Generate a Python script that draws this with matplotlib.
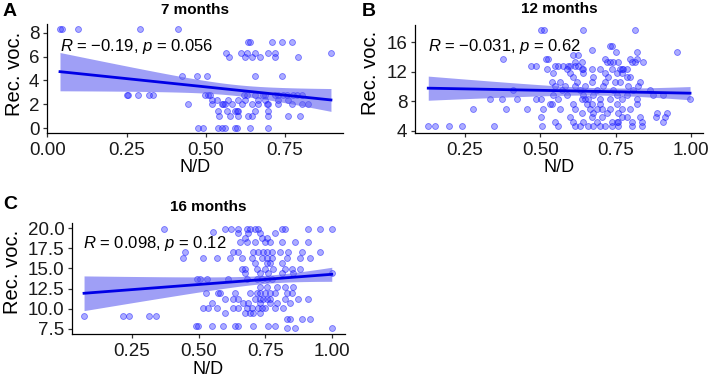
import numpy as np
import matplotlib
matplotlib.use("Agg")
import matplotlib.pyplot as plt

plt.rcParams['font.family'] = ['Liberation Sans', 'DejaVu Sans']
plt.rcParams['mathtext.fontset'] = 'custom'
plt.rcParams['mathtext.rm'] = 'Liberation Sans'
plt.rcParams['mathtext.it'] = 'Liberation Sans:italic'

# ---------------- data ----------------
# Panel A: 7 months  -> rows of equal Rec. voc. value : N/D values
a_rows = {
    8.3: [0.040, 0.047, 0.098, 0.292, 0.413],
    7.25: [0.634, 0.639, 0.710, 0.741, 0.773],
    6.33: [0.564, 0.611, 0.629, 0.655, 0.695, 0.718, 0.895],
    6.0: [0.574, 0.624, 0.645, 0.671, 0.720, 0.792],
    4.38: [0.424, 0.471, 0.503, 0.655, 0.739],
    2.75: [0.250, 0.256, 0.285, 0.321, 0.334, 0.497, 0.508, 0.513, 0.621, 0.629,
           0.655, 0.681, 0.687, 0.718, 0.729, 0.745, 0.755, 0.776, 0.787, 0.803],
    2.36: [0.519, 0.534, 0.571, 0.603, 0.624, 0.666, 0.687, 0.729, 0.760],
    2.0: [0.445, 0.519, 0.550, 0.555, 0.561, 0.582, 0.613, 0.645, 0.666, 0.692,
          0.697, 0.729, 0.771, 0.803, 0.823],
    1.4: [0.539, 0.566, 0.592, 0.597, 0.603, 0.655, 0.697],
    1.0: [0.543, 0.576, 0.603, 0.634, 0.645, 0.697, 0.760, 0.797],
    0.0: [0.476, 0.492, 0.539, 0.550, 0.561, 0.592, 0.597, 0.639, 0.697],
}
# Panel B: 12 months
b_rows = {
    17.74: [0.502, 0.513, 0.643, 0.814],
    15.56: [0.731, 0.737],
    15.0: [0.670],
    14.7: [0.750, 0.820, 0.955],
    14.33: [0.609, 0.626],
    13.78: [0.377, 0.518, 0.526, 0.715, 0.798, 0.822],
    13.33: [0.615, 0.637, 0.720, 0.731, 0.742, 0.759, 0.803, 0.814, 0.840],
    12.85: [0.469, 0.484, 0.549, 0.560, 0.576, 0.593, 0.598, 0.615, 0.626],
    12.33: [0.521, 0.587, 0.637, 0.643, 0.670, 0.698, 0.737, 0.764, 0.770, 0.775, 0.787],
    11.83: [0.543, 0.598, 0.643, 0.715, 0.753, 0.770],
    11.28: [0.609, 0.676, 0.726, 0.787, 0.798],
    10.6: [0.538, 0.565, 0.621, 0.670, 0.715, 0.748, 0.764, 0.831],
    10.1: [0.549, 0.582, 0.615, 0.648, 0.709, 0.792, 0.825],
    9.5: [0.408, 0.571, 0.632, 0.687, 0.742, 0.809, 0.864],
    8.87: [0.543, 0.587, 0.643, 0.676, 0.753, 0.787, 0.875, 0.908],
    8.28: [0.333, 0.374, 0.421, 0.484, 0.502, 0.560, 0.637, 0.648, 0.659, 0.698,
           0.731, 0.770, 0.820, 0.997],
    7.6: [0.532, 0.538, 0.609, 0.654, 0.670, 0.698, 0.753, 0.820],
    6.92: [0.278, 0.385, 0.455, 0.510, 0.565, 0.615, 0.665, 0.687, 0.704, 0.731, 0.770, 0.798],
    6.37: [0.637, 0.676, 0.720, 0.759, 0.886, 0.919],
    5.9: [0.502, 0.598, 0.670, 0.704, 0.770, 0.787, 0.831, 0.884, 0.914],
    5.23: [0.549, 0.609, 0.643, 0.687, 0.737, 0.753, 0.759, 0.803, 0.836, 0.908],
    4.6: [0.128, 0.150, 0.198, 0.239, 0.346, 0.504, 0.560, 0.615, 0.632, 0.659, 0.676,
          0.698, 0.715, 0.737, 0.759, 0.803, 0.836],
}
# Panel C: 16 months
c_rows = {
    19.84: [0.372, 0.599, 0.621, 0.649, 0.680, 0.692, 0.711, 0.724, 0.811, 0.823,
            0.910, 0.954, 0.998],
    19.55: [0.555],
    19.34: [0.649, 0.686, 0.730, 0.786],
    18.72: [0.674, 0.736, 0.755],
    18.23: [0.655, 0.680, 0.711, 0.748, 0.767, 0.811, 0.861, 0.910],
    17.0: [0.449, 0.630, 0.649, 0.705, 0.724, 0.742, 0.755, 0.773, 0.804, 0.836, 0.886, 0.954],
    16.33: [0.443, 0.515, 0.568, 0.618, 0.661, 0.699, 0.736, 0.755, 0.773, 0.830, 0.879, 0.917],
    15.63: [0.711, 0.755, 0.767, 0.811],
    14.89: [0.661, 0.674, 0.717, 0.748, 0.779, 0.823, 0.848, 0.879],
    14.39: [0.674, 0.730, 0.761, 0.811, 0.854, 0.998],
    13.65: [0.493, 0.505, 0.530, 0.611, 0.680, 0.717, 0.736, 0.755, 0.773],
    12.74: [0.730, 0.755, 0.792, 0.823, 0.854],
    11.92: [0.528, 0.574, 0.580, 0.636, 0.692, 0.717, 0.730, 0.748, 0.767, 0.786, 0.830, 0.848],
    11.17: [0.599, 0.630, 0.649, 0.711, 0.730, 0.742, 0.755, 0.767, 0.823, 0.873, 0.910],
    10.68: [0.549, 0.667, 0.686, 0.730, 0.767, 0.792, 0.842],
    10.1: [0.518, 0.536, 0.570, 0.630, 0.649, 0.680, 0.699, 0.724, 0.736, 0.748, 0.786, 0.817],
    9.44: [0.599, 0.674, 0.692, 0.705, 0.730],
    9.1: [0.072, 0.216, 0.241, 0.316, 0.341],
    8.74: [0.830, 0.842, 0.886, 0.917],
    7.9: [0.490, 0.497, 0.549, 0.593, 0.636, 0.649, 0.705, 0.761, 0.786],
    7.6: [0.830, 0.861, 0.998],
}

# Linear-fit values (full sample, many points overlap):
# fitted Rec. voc. at the smallest and largest N/D, and 95% CI half-width
# at the left end, at its narrowest point, and at the right end.
fit_y_ends = [[4.74, 2.36], [9.78, 9.10], [11.92, 14.27]]
ci_halfwidth = [[1.61, 0.46, 0.96], [1.64, 0.50, 0.90], [2.15, 0.50, 0.87]]

titles = ["7 months", "12 months", "16 months"]
letters = ["A", "B", "C"]
stats = ["$R$ = \u22120.19, $p$ = 0.056", "$R$ = \u22120.031, $p$ = 0.62", "$R$ = 0.098, $p$ = 0.12"]
xtick_vals = [[0.0, 0.25, 0.5, 0.75], [0.25, 0.5, 0.75, 1.0], [0.25, 0.5, 0.75, 1.0]]
ytick_vals = [[0, 2, 4, 6, 8], [4, 8, 12, 16], [7.5, 10.0, 12.5, 15.0, 17.5, 20.0]]
ytick_fmt = ["{:.0f}", "{:.0f}", "{:.1f}"]
xlims = [(-0.001, 0.933), (0.084, 1.04), (0.027, 1.046)]
ylims = [(-0.42, 8.75), (3.63, 18.37), (6.875, 20.625)]


def rows_to_xy(rows):
    xs, ys = [], []
    for yv, xl in rows.items():
        xs += xl
        ys += [yv] * len(xl)
    return np.array(xs), np.array(ys)


W, H = 709, 379
fig = plt.figure(figsize=(W / 100, H / 100), dpi=100)


def add_ax(l, t, r, b):
    return fig.add_axes([l / W, 1 - b / H, (r - l) / W, (b - t) / H])


def ftext(x, y, s, **kw):
    fig.text(x / W, 1 - y / H, s, **kw)


# pixel boxes: left, top, right, bottom
boxes = [(47, 24, 343, 133), (415, 25, 703, 133.4), (72, 223, 344.6, 334)]
title_pos = [(195, 10), (559, 9), (208, 207)]
letter_pos = [(10, 12), (369, 12), (10, 204)]
stat_pos = [(60, 46), (428, 46.5), (83, 243)]
ylab_pos = [(14, 74), (371, 73), (13, 272)]
xlab_pos = [(195, 168), (559, 168), (208, 370)]

for i, rows in enumerate([a_rows, b_rows, c_rows]):
    x, y = rows_to_xy(rows)
    ax = add_ax(*boxes[i])
    ax.scatter(x, y, s=18, facecolor=(0.15, 0.15, 1.0, 0.38), edgecolor=(0.1, 0.1, 1.0, 0.55),
               linewidths=0.6, zorder=2)

    # fitted line over the data range, with its confidence band
    x0, x1 = x.min(), x.max()
    xx = np.linspace(x0, x1, 80)
    ya, yb = fit_y_ends[i]
    yy = ya + (yb - ya) * (xx - x0) / (x1 - x0)
    hl, hm, hr = ci_halfwidth[i]
    c0 = hm ** 2
    ratio = np.sqrt((hl ** 2 - c0) / (hr ** 2 - c0))
    xm = (ratio * x1 + x0) / (1 + ratio)
    c1 = (hr ** 2 - c0) / (x1 - xm) ** 2
    hw = np.sqrt(c0 + c1 * (xx - xm) ** 2)
    ax.fill_between(xx, yy - hw, yy + hw, color='#5a5af0', alpha=0.58, lw=0, zorder=3)
    ax.plot(xx, yy, color='#0000e6', lw=2.0, zorder=4)

    ax.set_xlim(*xlims[i])
    ax.set_ylim(*ylims[i])
    ax.set_xticks(xtick_vals[i])
    ax.set_xticklabels(["{:.2f}".format(v) for v in xtick_vals[i]])
    ax.set_yticks(ytick_vals[i])
    ax.set_yticklabels([ytick_fmt[i].format(v) for v in ytick_vals[i]])
    for sp in ['top', 'right']:
        ax.spines[sp].set_visible(False)
    for sp in ['left', 'bottom']:
        ax.spines[sp].set_linewidth(0.9)
        ax.spines[sp].set_color('black')
    ax.tick_params(direction='out', length=3, width=0.9, colors='#333333',
                   labelsize=13.5, labelcolor='#1a1a1a')
    ax.tick_params(axis='x', pad=3.5)
    ax.tick_params(axis='y', pad=2.5)

    ftext(*title_pos[i], titles[i], ha='center', va='center', fontsize=11, fontweight='bold')
    ftext(*letter_pos[i], letters[i], ha='center', va='center', fontsize=14, fontweight='bold')
    ftext(*stat_pos[i], stats[i], ha='left', va='center', fontsize=12, zorder=5)
    ftext(*ylab_pos[i], "Rec. voc.", ha='center', va='center', rotation=90, fontsize=14.5)
    ftext(*xlab_pos[i], "N/D", ha='center', va='center', fontsize=13)

fig.savefig("out.png", dpi=100)
